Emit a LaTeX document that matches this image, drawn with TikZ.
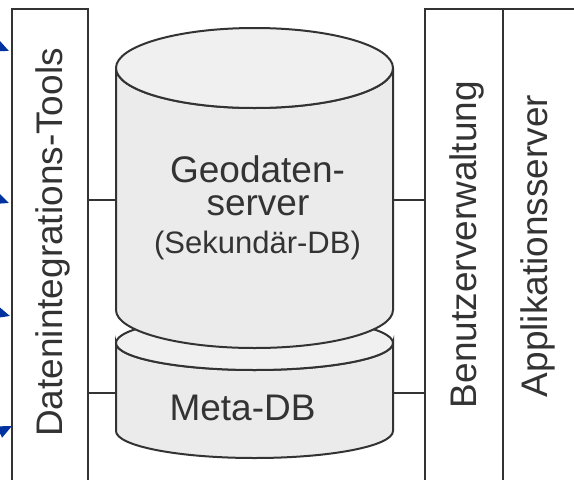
\documentclass[tikz,border=0pt]{standalone}
\usepackage{fontspec}
\setmainfont{Liberation Sans}
\usepackage{tikz}
\usetikzlibrary{arrows.meta}
\definecolor{linegray}{HTML}{333333}
\definecolor{dbbody}{HTML}{EBEBEB}
\definecolor{dbtop}{HTML}{F0F0F0}
\definecolor{feedblue}{HTML}{0033A0}
\tikzstyle{colbox} = [draw=linegray, line width=2pt, rectangle, inner sep=0pt]
\tikzstyle{coltext} = [text=linegray, rotate=90, anchor=base, inner sep=0pt, font=\fontsize{37}{40}\selectfont]
\tikzstyle{dbtext} = [text=linegray, anchor=base, inner sep=0pt, font=\fontsize{37}{40}\selectfont]
\tikzstyle{dbside} = [draw=linegray, line width=2pt, fill=dbbody]
\tikzstyle{dbcap} = [draw=linegray, line width=2pt, fill=dbtop]
\tikzstyle{link} = [draw=linegray, line width=2pt]
\tikzstyle{feed} = [draw=feedblue, line width=2pt, -{Triangle[length=14pt,width=12pt]}]

\begin{document}
\begin{tikzpicture}[x=1pt, y=-1pt]
    \useasboundingbox (0,0) rectangle (574,480);
    % columns
    \node [colbox, minimum width=76pt, minimum height=490pt] (tools) at (50,254) {};
    \node [colbox, minimum width=78pt, minimum height=490pt] (users) at (464,254) {};
    \node [colbox, minimum width=97pt, minimum height=490pt] (appserver) at (551.5,254) {};
    \node [coltext] (toolslabel) at (62,242.5) {Datenintegrations-Tools};
    \node [coltext] (userslabel) at (476,244.5) {Benutzerverwaltung};
    \node [coltext] (applabel) at (547,246) {Applikationsserver};
    % Meta-DB cylinder
    \filldraw [dbside] (116,343) -- (116,431) arc [start angle=180, end angle=0, x radius=138.5, y radius=27]
        -- (393,343) arc [start angle=0, end angle=180, x radius=138.5, y radius=27] -- cycle;
    \filldraw [dbcap] (254.5,343) ellipse [x radius=138.5, y radius=27];
    % Geodatenserver cylinder
    \filldraw [dbside] (116,68) -- (116,310) arc [start angle=180, end angle=0, x radius=138.5, y radius=38]
        -- (393,68) arc [start angle=0, end angle=180, x radius=138.5, y radius=40] -- cycle;
    \filldraw [dbcap] (254.5,68) ellipse [x radius=138.5, y radius=40];
    \node [dbtext] (geolabel) at (257.5,182) {Geodaten-};
    \node [dbtext] (geolabel2) at (258,215) {server};
    \node [dbtext, font=\fontsize{31}{34}\selectfont] (geolabel3) at (257.5,253) {(Sekundär-DB)};
    \node [dbtext] (metalabel) at (242.5,420) {Meta-DB};
    % connectors
    \coordinate (geoW) at (116,200);
    \coordinate (geoE) at (393,200);
    \coordinate (metaW) at (116,393);
    \coordinate (metaE) at (393,393);
    \draw [link] (geoW -| tools.east) -- (geoW);
    \draw [link] (metaW -| tools.east) -- (metaW);
    \draw [link] (geoE) -- (geoE -| users.west);
    \draw [link] (metaE) -- (metaE -| users.west);
    % incoming arrows
    \coordinate (src1) at (-80,12);
    \coordinate (tip1) at (9,51);
    \coordinate (src2) at (-80,170);
    \coordinate (tip2) at (9,203);
    \coordinate (src3) at (-80,290);
    \coordinate (tip3) at (10,316);
    \coordinate (src4) at (-80,470);
    \coordinate (tip4) at (12,426);
    \draw [feed] (src1) -- (tip1);
    \draw [feed] (src2) -- (tip2);
    \draw [feed] (src3) -- (tip3);
    \draw [feed] (src4) -- (tip4);
\end{tikzpicture}
\end{document}
